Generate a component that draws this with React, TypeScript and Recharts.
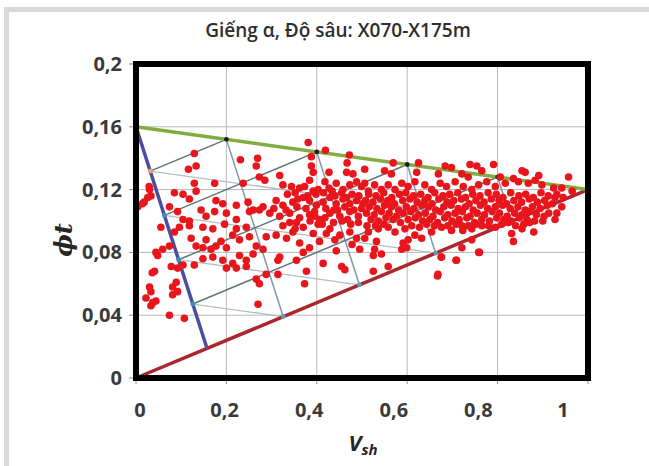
import React from 'react';
import {
  ScatterChart,
  Scatter,
  XAxis,
  YAxis,
  CartesianGrid,
  ReferenceLine,
  ReferenceArea
} from 'recharts';

const xTicks = [0, 0.2, 0.4, 0.6, 0.8, 1];
const yTicks = [0, 0.04, 0.08, 0.12, 0.16, 0.2];

// dinh tam giac (Vsh, phi): sach, set, bot
const cleanPoint = { x: 0, y: 0.16 };
const shalePoint = { x: 1, y: 0.12 };
const siltPoint = { x: 0.157, y: 0.0189 };
const shaleLineStart = { x: 0, y: 0 };
const gridSteps = [0.2, 0.4, 0.6, 0.8];

// diem do - vung trai / thua
const pointsLeft: [number, number][] = [
  [0.004, 0.109], [0.014, 0.111], [0.018, 0.112], [0.029, 0.122], [0.030, 0.120], [0.026, 0.115], [0.033, 0.116],
  [0.041, 0.068], [0.036, 0.067], [0.030, 0.058], [0.033, 0.055], [0.022, 0.051], [0.037, 0.048], [0.044, 0.049],
  [0.033, 0.046], [0.074, 0.040], [0.107, 0.038],
  [0.089, 0.061], [0.081, 0.058], [0.092, 0.055], [0.081, 0.053],
  [0.048, 0.078], [0.044, 0.080], [0.059, 0.082], [0.074, 0.084],
  [0.055, 0.096], [0.085, 0.093], [0.096, 0.096],
  [0.078, 0.071], [0.092, 0.070], [0.104, 0.072],
  [0.074, 0.109], [0.092, 0.106], [0.085, 0.118], [0.104, 0.117], [0.118, 0.114], [0.133, 0.119], [0.104, 0.101],
  [0.118, 0.100],
  [0.129, 0.143], [0.133, 0.135], [0.116, 0.133], [0.129, 0.124],
  [0.231, 0.139], [0.269, 0.140], [0.266, 0.135], [0.381, 0.150], [0.419, 0.145], [0.472, 0.142],
  [0.388, 0.141], [0.388, 0.135], [0.392, 0.131], [0.427, 0.131], [0.467, 0.137], [0.466, 0.131], [0.480, 0.130],
  [0.318, 0.129], [0.273, 0.128], [0.285, 0.126], [0.174, 0.124], [0.237, 0.124],
  [0.177, 0.113], [0.192, 0.111], [0.222, 0.110], [0.248, 0.112], [0.259, 0.107], [0.281, 0.109],
  [0.144, 0.107], [0.155, 0.103], [0.174, 0.106], [0.200, 0.105], [0.222, 0.101],
  [0.122, 0.089], [0.133, 0.084], [0.148, 0.083], [0.155, 0.088], [0.166, 0.082], [0.177, 0.084], [0.188, 0.087],
  [0.200, 0.083],
  [0.129, 0.072], [0.148, 0.076], [0.170, 0.077], [0.192, 0.075], [0.214, 0.073], [0.200, 0.070], [0.222, 0.070],
  [0.118, 0.097], [0.148, 0.096], [0.170, 0.095], [0.196, 0.098], [0.222, 0.095], [0.244, 0.096],
  [0.214, 0.091], [0.229, 0.088], [0.251, 0.090], [0.266, 0.084], [0.281, 0.082], [0.259, 0.079], [0.229, 0.078],
  [0.244, 0.075],
  [0.244, 0.071], [0.266, 0.063], [0.273, 0.060], [0.270, 0.047], [0.288, 0.066], [0.314, 0.066], [0.318, 0.077],
  [0.314, 0.075]
];

// diem do - vung giua
const pointsMiddle: [number, number][] = [
  [0.288, 0.090], [0.310, 0.091], [0.333, 0.089], [0.347, 0.093], [0.362, 0.086], [0.384, 0.083], [0.370, 0.080],
  [0.355, 0.075], [0.377, 0.068], [0.373, 0.060], [0.414, 0.073], [0.406, 0.087], [0.443, 0.081], [0.429, 0.095],
  [0.451, 0.091], [0.473, 0.093], [0.488, 0.089], [0.495, 0.082], [0.455, 0.071], [0.462, 0.069], [0.325, 0.097],
  [0.355, 0.099], [0.370, 0.096], [0.403, 0.098], [0.421, 0.092],
  [0.528, 0.082], [0.543, 0.079], [0.525, 0.078], [0.525, 0.068], [0.558, 0.071], [0.591, 0.086], [0.599, 0.083],
  [0.676, 0.077], [0.708, 0.075], [0.667, 0.065], [0.758, 0.080], [0.721, 0.083], [0.743, 0.088], [0.831, 0.092],
  [0.835, 0.087], [0.854, 0.095], [0.880, 0.093], [0.871, 0.099], [0.900, 0.100],
  [0.325, 0.123], [0.344, 0.122], [0.362, 0.121], [0.373, 0.122], [0.384, 0.126], [0.403, 0.120], [0.418, 0.125],
  [0.427, 0.121], [0.443, 0.124], [0.458, 0.120], [0.473, 0.123], [0.488, 0.125], [0.499, 0.122],
  [0.310, 0.113], [0.325, 0.110], [0.347, 0.112], [0.370, 0.115], [0.384, 0.113], [0.399, 0.110], [0.414, 0.112],
  [0.429, 0.115], [0.443, 0.111], [0.458, 0.114], [0.473, 0.111], [0.488, 0.113], [0.499, 0.108],
  [0.251, 0.106], [0.273, 0.107], [0.296, 0.105], [0.318, 0.103], [0.340, 0.105], [0.362, 0.102], [0.384, 0.104],
  [0.406, 0.101], [0.429, 0.105], [0.451, 0.103], [0.473, 0.106], [0.492, 0.103],
  [0.335, 0.117], [0.352, 0.118], [0.380, 0.116], [0.398, 0.117], [0.415, 0.118], [0.440, 0.116], [0.455, 0.118],
  [0.478, 0.117], [0.493, 0.116],
  [0.305, 0.108], [0.332, 0.107], [0.356, 0.109], [0.376, 0.108], [0.395, 0.106], [0.420, 0.108], [0.438, 0.107],
  [0.462, 0.109], [0.482, 0.107],
  [0.340, 0.099], [0.385, 0.100], [0.412, 0.098], [0.437, 0.099], [0.456, 0.100], [0.475, 0.098], [0.492, 0.099],
  [0.358, 0.114], [0.392, 0.119], [0.434, 0.119], [0.466, 0.115], [0.396, 0.103], [0.446, 0.107], [0.418, 0.102],
  [0.468, 0.101], [0.502, 0.111], [0.352, 0.095], [0.392, 0.092], [0.440, 0.088], [0.478, 0.085], [0.511, 0.097]
];

// diem do - dai day dac ben phai
const pointsBand: [number, number][] = [
  [0.506, 0.133], [0.569, 0.137], [0.550, 0.132], [0.565, 0.130], [0.625, 0.137], [0.621, 0.131], [0.684, 0.135],
  [0.698, 0.134], [0.669, 0.130], [0.739, 0.136], [0.754, 0.135], [0.765, 0.132], [0.791, 0.136], [0.721, 0.130],
  [0.735, 0.128], [0.854, 0.132], [0.861, 0.131], [0.891, 0.129], [0.883, 0.126], [0.957, 0.128],
  [0.835, 0.127], [0.846, 0.125], [0.868, 0.124], [0.898, 0.123], [0.924, 0.121], [0.942, 0.121], [0.965, 0.119],
  [0.806, 0.128], [0.817, 0.124], [0.795, 0.122], [0.776, 0.125], [0.758, 0.123], [0.743, 0.120], [0.724, 0.122],
  [0.706, 0.125], [0.687, 0.122], [0.673, 0.124], [0.654, 0.120], [0.639, 0.123], [0.617, 0.125], [0.602, 0.122],
  [0.588, 0.124], [0.573, 0.120], [0.558, 0.123], [0.543, 0.120], [0.528, 0.123], [0.514, 0.119], [0.506, 0.124],
  [0.927, 0.115], [0.942, 0.109], [0.913, 0.105], [0.927, 0.101], [0.945, 0.115], [0.931, 0.105],
  [0.617, 0.091], [0.632, 0.089], [0.654, 0.093], [0.676, 0.096], [0.698, 0.094], [0.721, 0.097], [0.743, 0.095],
  [0.765, 0.097], [0.795, 0.096], [0.809, 0.098], [0.824, 0.099],
  [0.514, 0.093], [0.536, 0.095], [0.558, 0.096], [0.573, 0.093], [0.595, 0.095], [0.532, 0.087], [0.506, 0.089],
  [0.602, 0.088], [0.588, 0.082], [0.723, 0.094], [0.760, 0.080], [0.709, 0.075], [0.668, 0.066], [0.675, 0.077],
  [0.515, 0.117], [0.531, 0.116], [0.548, 0.118], [0.566, 0.115], [0.583, 0.117], [0.597, 0.118], [0.614, 0.116],
  [0.630, 0.117], [0.646, 0.115], [0.661, 0.118], [0.679, 0.116], [0.694, 0.117], [0.712, 0.118], [0.729, 0.115],
  [0.745, 0.117], [0.761, 0.116], [0.779, 0.118], [0.797, 0.117], [0.812, 0.115], [0.829, 0.118], [0.847, 0.116],
  [0.862, 0.117], [0.879, 0.115], [0.896, 0.118], [0.912, 0.116], [0.931, 0.117],
  [0.508, 0.113], [0.524, 0.112], [0.541, 0.114], [0.557, 0.113], [0.572, 0.111], [0.590, 0.113], [0.606, 0.114],
  [0.622, 0.112], [0.639, 0.113], [0.655, 0.111], [0.670, 0.114], [0.688, 0.112], [0.703, 0.113], [0.720, 0.114],
  [0.737, 0.111], [0.752, 0.113], [0.770, 0.112], [0.786, 0.114], [0.803, 0.113], [0.820, 0.111], [0.836, 0.113],
  [0.853, 0.112], [0.870, 0.114], [0.888, 0.112], [0.904, 0.113], [0.921, 0.111],
  [0.516, 0.109], [0.533, 0.108], [0.550, 0.110], [0.565, 0.109], [0.581, 0.107], [0.598, 0.109], [0.615, 0.108],
  [0.632, 0.110], [0.647, 0.109], [0.663, 0.107], [0.681, 0.109], [0.697, 0.110], [0.713, 0.108], [0.729, 0.109],
  [0.746, 0.107], [0.762, 0.110], [0.778, 0.108], [0.795, 0.109], [0.811, 0.110], [0.828, 0.108], [0.845, 0.109],
  [0.861, 0.107], [0.877, 0.109], [0.894, 0.108], [0.910, 0.110],
  [0.510, 0.105], [0.527, 0.104], [0.543, 0.106], [0.560, 0.105], [0.576, 0.103], [0.591, 0.105], [0.608, 0.106],
  [0.625, 0.104], [0.640, 0.105], [0.657, 0.103], [0.673, 0.106], [0.690, 0.104], [0.706, 0.105], [0.722, 0.106],
  [0.739, 0.103], [0.755, 0.105], [0.771, 0.104], [0.788, 0.106], [0.804, 0.105], [0.821, 0.103], [0.838, 0.105],
  [0.854, 0.104], [0.870, 0.106], [0.886, 0.104], [0.903, 0.103],
  [0.520, 0.101], [0.536, 0.100], [0.553, 0.102], [0.569, 0.101], [0.585, 0.099], [0.602, 0.101], [0.618, 0.102],
  [0.634, 0.100], [0.650, 0.101], [0.667, 0.099], [0.683, 0.102], [0.699, 0.100], [0.715, 0.101], [0.732, 0.102],
  [0.749, 0.099], [0.765, 0.101], [0.782, 0.100], [0.798, 0.102], [0.814, 0.101], [0.830, 0.100], [0.848, 0.102],
  [0.865, 0.101], [0.882, 0.100],
  [0.530, 0.097], [0.548, 0.098], [0.610, 0.097], [0.627, 0.096], [0.643, 0.098], [0.660, 0.097], [0.690, 0.097],
  [0.708, 0.098], [0.735, 0.097], [0.752, 0.098], [0.780, 0.097], [0.840, 0.097], [0.858, 0.098]
];

const fmt = (v: number) => String(v).replace('.', ',');

const lerp = (a: { x: number; y: number }, b: { x: number; y: number }, t: number) => ({
  x: a.x + (b.x - a.x) * t,
  y: a.y + (b.y - a.y) * t
});

const tickFont = '"Open Sans", sans-serif';

const XTick = (props: any) => {
  const { x, y, payload } = props;
  const v = payload.value as number;
  return (
    <text x={x + 4 - 29 * v} y={y} dy={31} textAnchor="middle" fontSize={20} fontWeight={700} fill="#3a3a3a" fontFamily={tickFont}>
      {fmt(v)}
    </text>
  );
};

const YTick = (props: any) => {
  const { x, y, payload } = props;
  return (
    <text x={x} y={y} dy={7} textAnchor="end" fontSize={20} fontWeight={700} fill="#3a3a3a" fontFamily={tickFont}>
      {fmt(payload.value)}
    </text>
  );
};

const RedDot = (props: any) => <circle cx={props.cx} cy={props.cy} r={3.8} fill="#e8161c" />;
const KnotDot = (props: any) => <circle cx={props.cx} cy={props.cy} r={2.4} fill={props.payload.c} />;

export default function App() {
  const dots = [...pointsLeft, ...pointsMiddle, ...pointsBand].map(([x, y]) => ({ x, y }));

  // luoi tam giac ben trong
  const parBC = gridSteps.map((t) => [lerp(cleanPoint, shalePoint, t), lerp(cleanPoint, siltPoint, t)]);
  const parAC = gridSteps.map((t) => [lerp(cleanPoint, shalePoint, t), lerp(siltPoint, shalePoint, t)]);
  const parAB = gridSteps.map((t) => [lerp(cleanPoint, siltPoint, t), lerp(shalePoint, siltPoint, t)]);

  const knots = [
    ...gridSteps.map((t) => ({ ...lerp(cleanPoint, shalePoint, t), c: '#1f1f1f' })),
    ...gridSteps.map((t, i) => ({ ...lerp(cleanPoint, siltPoint, t), c: i === 0 ? '#eaa46a' : '#3e8fb5' })),
    ...gridSteps.map((t) => ({ ...lerp(siltPoint, shalePoint, t), c: '#5d9bb5' }))
  ];

  return (
    <div style={{ position: 'absolute', left: 0, top: 0, width: 649, height: 466, background: '#fff', overflow: 'hidden', fontFamily: tickFont }}>
      <div style={{ position: 'absolute', left: 4, top: 7, right: 0, bottom: 0, borderTop: '5px solid #d9d9d9', borderLeft: '5px solid #d9d9d9' }} />
      <div style={{ position: 'absolute', left: 0, top: 0 }}>
        <ScatterChart width={649} height={466} margin={{ top: 64, right: 61, bottom: 0, left: 0 }}>
          <CartesianGrid stroke="#b8b8b8" strokeWidth={1} />
          <XAxis
            type="number"
            dataKey="x"
            domain={[0, 1]}
            ticks={xTicks}
            height={88}
            axisLine={false}
            tickLine={{ stroke: '#8c8c8c' }}
            tickSize={6}
            tickMargin={2}
            tick={<XTick />}
            interval={0}
          />
          <YAxis
            type="number"
            dataKey="y"
            domain={[0, 0.2]}
            ticks={yTicks}
            width={136}
            axisLine={false}
            tickLine={{ stroke: '#8c8c8c' }}
            tickSize={7}
            tickMargin={7}
            tick={<YTick />}
            interval={0}
          />
          {parAB.map((s, i) => (
            <ReferenceLine key={`ab-${i}`} segment={s} stroke="#b4bec4" strokeWidth={1.3} ifOverflow="visible" />
          ))}
          {parAC.map((s, i) => (
            <ReferenceLine key={`ac-${i}`} segment={s} stroke="#7f98a8" strokeWidth={1.5} ifOverflow="visible" />
          ))}
          {parBC.map((s, i) => (
            <ReferenceLine key={`bc-${i}`} segment={s} stroke="#627478" strokeWidth={1.5} ifOverflow="visible" />
          ))}
          <ReferenceLine segment={[shaleLineStart, shalePoint]} stroke="#a8282e" strokeWidth={3.5} ifOverflow="visible" />
          <ReferenceLine segment={[cleanPoint, siltPoint]} stroke="#4b4d9e" strokeWidth={3.5} ifOverflow="visible" />
          <ReferenceLine segment={[cleanPoint, shalePoint]} stroke="#82ad3e" strokeWidth={3.5} ifOverflow="visible" />
          <Scatter data={knots} shape={<KnotDot />} isAnimationActive={false} />
          <Scatter data={dots} shape={<RedDot />} isAnimationActive={false} />
          <ReferenceArea x1={0} x2={1} y1={0} y2={0.2} fill="none" stroke="#000" strokeWidth={6} ifOverflow="visible" zIndex={1500} />
        </ScatterChart>
      </div>
      <div style={{ position: 'absolute', left: 0, top: 17, width: 676, textAlign: 'center', fontSize: 19, fontWeight: 600, color: '#2e2e2e' }}>
        Giếng α, Độ sâu: X070-X175m
      </div>
      <div
        style={{
          position: 'absolute',
          left: 63,
          top: 240,
          transform: 'translate(-50%, -50%) rotate(-90deg)',
          fontSize: 24,
          fontWeight: 700,
          fontStyle: 'italic',
          color: '#262626',
          fontFamily: '"DejaVu Serif", serif',
          whiteSpace: 'nowrap'
        }}
      >
        ϕt
      </div>
      <div
        style={{
          position: 'absolute',
          left: 363,
          top: 443,
          transform: 'translate(-50%, -50%)',
          fontSize: 22,
          fontWeight: 700,
          fontStyle: 'italic',
          color: '#262626',
          whiteSpace: 'nowrap'
        }}
      >
        V<span style={{ fontSize: 15, verticalAlign: -4 }}>sh</span>
      </div>
    </div>
  );
}
